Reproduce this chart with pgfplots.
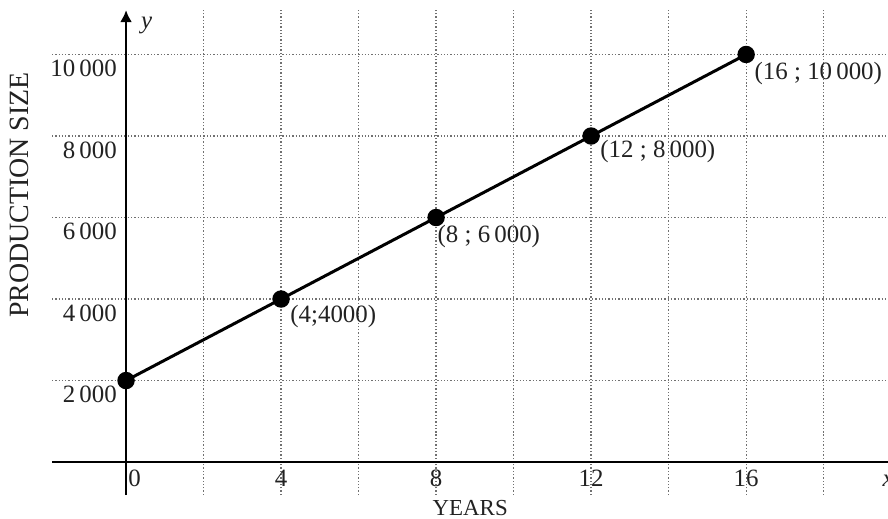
\documentclass[border=0pt]{standalone}
\usepackage{pgfplots}
\pgfplotsset{compat=1.18}
\usepackage{fontspec}
\setmainfont{Liberation Serif}
\usetikzlibrary{arrows.meta}
\definecolor{txt}{HTML}{222222}
\definecolor{gridc}{HTML}{707070}
\begin{document}
\fontsize{12.5}{15}\selectfont
\begin{tikzpicture}
\begin{axis}[
  scale only axis,
  width=418bp, height=242.5bp,
  xmin=-1.91, xmax=19.66,
  ymin=-810, ymax=11090,
  axis lines=middle,
  x axis line style={-, line width=1.4bp},
  y axis line style={-{Latex[length=6bp,width=6bp]}, line width=1.4bp},
  xtick={0,2,...,18},
  ytick={0,2000,4000,6000,8000,10000},
  xticklabels={}, yticklabels={},
  major tick length=0pt,
  grid=major,
  major grid style={gridc, line width=0.65bp, densely dotted},
  clip=false,
]
\addplot[black, line width=1.5bp, mark=*, mark size=3.6bp, mark options={fill=black}]
  coordinates {(0,2000) (4,4000) (8,6000) (12,8000) (16,10000)};

% point labels
\node[anchor=north west, inner sep=0pt, text=txt] at (axis cs:4.23,3853) {(4;4000)};
\node[anchor=north west, inner sep=0pt, text=txt] at (axis cs:8.03,5816) {(8 ; 6\,000)};
\node[anchor=north west, inner sep=0pt, text=txt] at (axis cs:12.23,7902) {(12 ; 8\,000)};
\node[anchor=north west, inner sep=0pt, text=txt] at (axis cs:16.21,9816) {(16 ; 10\,000)};

% y tick labels
\foreach \v/\t in {2000/2\,000, 4000/4\,000, 6000/6\,000, 8000/8\,000, 10000/10\,000}{
  \edef\temp{\noexpand\node[anchor=north east, inner sep=0pt, text=txt] at (axis cs:-0.23,\v-130) {\t};}
  \temp
}
% x tick labels
\node[anchor=north west, inner sep=0pt, text=txt] at (axis cs:0.05,-180) {0};
\foreach \v in {4,8,12,16}{
  \edef\temp{\noexpand\node[anchor=north, inner sep=0pt, text=txt] at (axis cs:\v,-180) {\v};}
  \temp
}
% axis names
\node[anchor=west, inner sep=0pt, text=txt] at (axis cs:0.38,10724) {\textit{y}};
\node[anchor=north west, inner sep=0pt, text=txt] at (axis cs:19.51,-300) {\textit{x}};
\node[inner sep=0pt, text=txt, font=\fontsize{11.5}{13}\selectfont] at (axis cs:8.88,-1129) {YEARS};
\node[rotate=90, inner sep=0pt, text=txt, font=\fontsize{14}{16}\selectfont] at (axis cs:-2.75,6552) {PRODUCTION SIZE};

\coordinate (bbl) at (axis cs:-3.252,-1374);
\coordinate (btr) at (axis cs:19.66,11337);
\end{axis}
\pgfresetboundingbox
\path[use as bounding box] (bbl) rectangle (btr);
\end{tikzpicture}
\end{document}
